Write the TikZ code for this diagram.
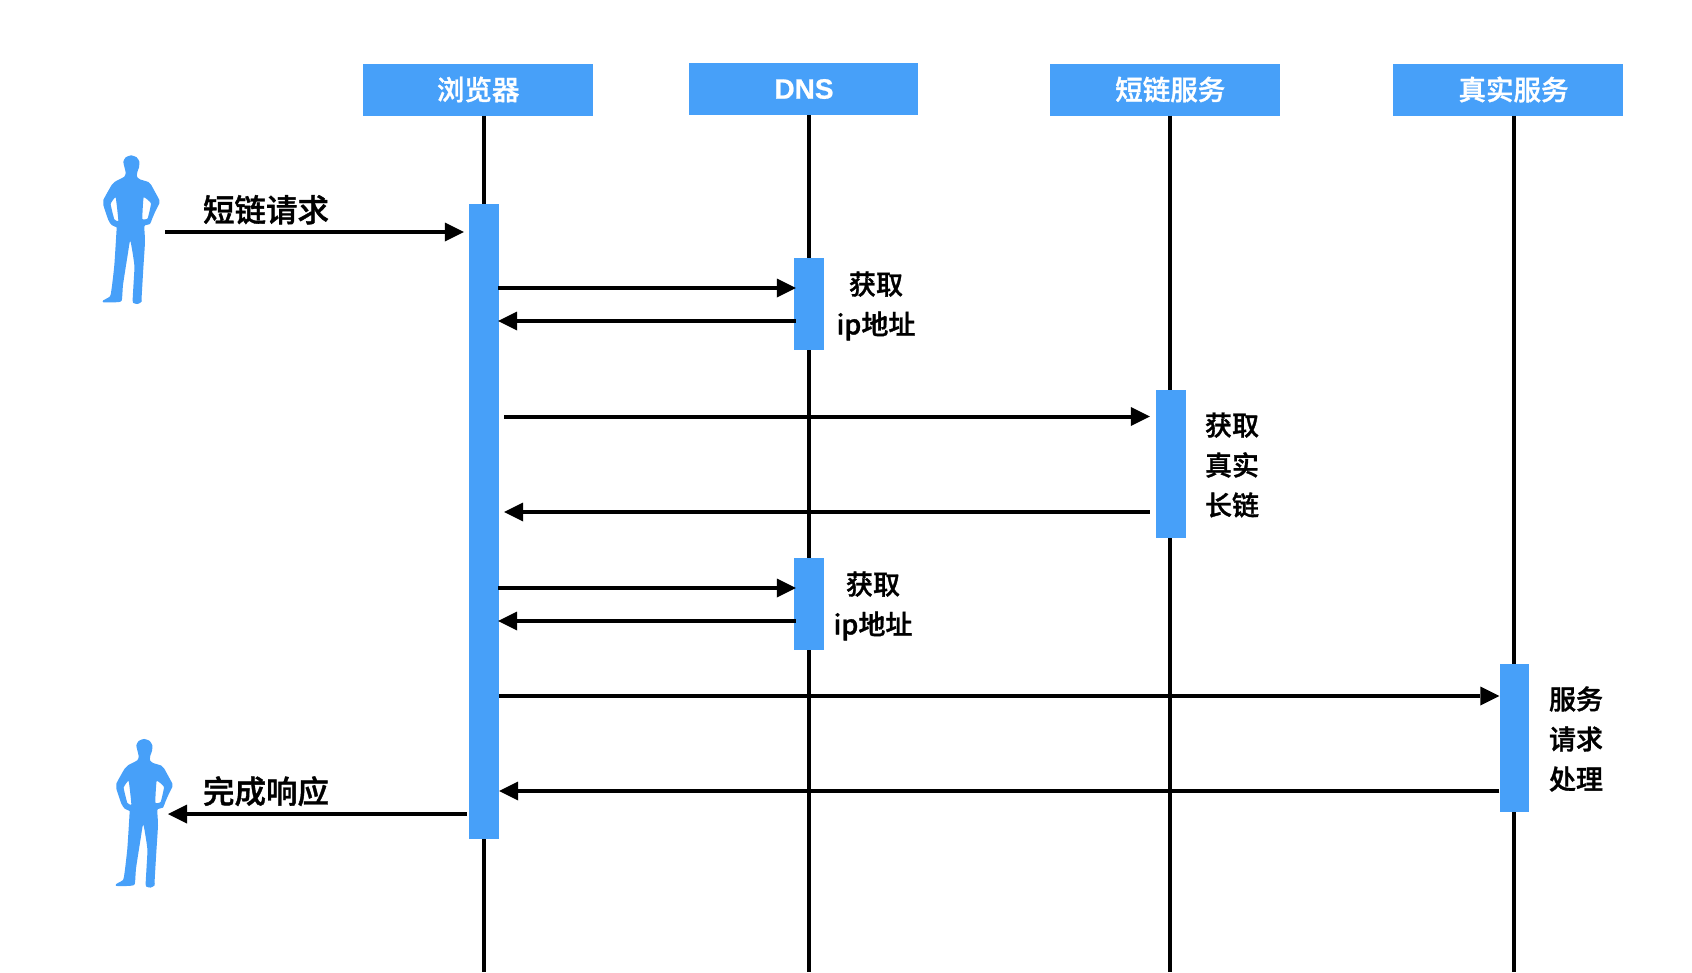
\documentclass[tikz,border=0pt]{standalone}
\usepackage{fontspec}
\setmainfont{Liberation Sans}
\newfontfamily\cjk[FakeBold=1.2]{Noto Sans CJK SC Medium}
\newfontfamily\cjkhead[FakeBold=1.2]{Noto Sans CJK SC Medium}
\newfontfamily\latinbold[FakeBold=0.8]{Liberation Sans Bold}
\usetikzlibrary{arrows.meta,calc}
\definecolor{seqblue}{HTML}{47A0F9}
\tikzset{
  header/.style={fill=seqblue,text=white,inner sep=0pt,minimum width=230pt,minimum height=52pt,font=\cjkhead\fontsize{27.5}{33}\selectfont},
  lifeline/.style={line width=4pt,black},
  bar/.style={fill=seqblue,inner sep=0pt,minimum width=30pt},
  msg/.style={line width=4pt,black,-{Triangle[length=19pt,width=19pt,line width=0pt]}},
  note/.style={inner sep=0pt,align=center,font=\cjk\fontsize{27}{40}\selectfont},
  biglabel/.style={inner sep=0pt,font=\cjk\fontsize{31.5}{36}\selectfont},
  person/.pic={
    \fill[seqblue,even odd rule,scale=1/3]
      plot[smooth cycle,tension=0.35] coordinates {
        (108,16) (125,22) (133,35) (132,52) (127,66) (126,80) (135,88) (160,96) (168,104) (178,122)
        (193,150) (193,160) (182,182) (172,205) (165,222) (150,226) (148,235) (150,275) (145,355)
        (140,440) (140,455) (128,462) (115,459) (113,449) (116,395) (118,345) (106,273) (98,315)
        (84,405) (80,452) (60,457) (25,457) (25,451) (45,439) (50,415) (58,345) (65,235)
        (65,232) (50,225) (40,210) (25,165) (25,150) (50,105) (60,95) (88,80) (92,68) (88,50) (85,35) (92,22)}
      plot[smooth cycle,tension=0.2] coordinates {(62,142) (47,162) (58,208) (70,212)}
      plot[smooth cycle,tension=0.2] coordinates {(146,142) (168,160) (158,205) (142,207)};
  }
}
\begin{document}
\begin{tikzpicture}[x=1pt,y=-1pt]
\useasboundingbox (0,0) rectangle (1692,972);
% free ends
\coordinate (b1) at (484,972);
\coordinate (b2) at (809,972);
\coordinate (b3) at (1170,972);
\coordinate (b4) at (1514,972);
\coordinate (userA) at (165,232);
\coordinate (userB) at (168,814);
% headers
\node[header] (hBrowser) at (478,89.5) {\raisebox{-0.7pt}{\hspace*{0.5pt}浏览器}};
\node[header,minimum width=229pt] (hDns) at (803.5,89) {\hspace*{1pt}\latinbold\fontsize{28}{33}\selectfont DNS};
\node[header] (hShort) at (1165,89.5) {\raisebox{-0.7pt}{\hspace*{10.5pt}短链服务}};
\node[header] (hReal) at (1508,89.5) {\raisebox{-0.7pt}{\hspace*{11pt}真实服务}};
% lifelines
\draw[lifeline] (hBrowser.south -| b1) -- (b1);
\draw[lifeline] (hDns.south -| b2) -- (b2);
\draw[lifeline] (hShort.south -| b3) -- (b3);
\draw[lifeline] (hReal.south -| b4) -- (b4);
% activation bars
\node[bar,minimum height=634.7pt] (barB) at (484,521.35) {};
\node[bar,minimum height=92pt] (barD1) at (809,304) {};
\node[bar,minimum height=148pt] (barS) at (1171,463.5) {};
\node[bar,minimum height=92pt] (barD2) at (809,603.5) {};
\node[bar,minimum height=148pt,minimum width=29.5pt] (barR) at (1514.25,737.5) {};
% persons
\pic at (95,150) {person};
\pic at (108,733.6) {person};
% messages
\draw[msg,shorten >=5pt] (userA) -- (barB.west |- userA);
\draw[msg,shorten >=-2pt,shorten <=-1pt] (barB.east |- 0,288) -- (barD1.west |- 0,288);
\draw[msg,shorten <=-2pt,shorten >=-1pt] (barD1.west |- 0,321) -- (barB.east |- 0,321);
\draw[msg,shorten >=6pt,shorten <=5pt] (barB.east |- 0,416.5) -- (barS.west |- 0,416.5);
\draw[msg,shorten >=5pt,shorten <=6pt] (barS.west |- 0,512) -- (barB.east |- 0,512);
\draw[msg,shorten >=-2pt,shorten <=-1pt] (barB.east |- 0,588) -- (barD2.west |- 0,588);
\draw[msg,shorten <=-2pt,shorten >=-1pt] (barD2.west |- 0,621) -- (barB.east |- 0,621);
\draw[msg] (barB.east |- 0,696) -- (barR.west |- 0,696);
\draw[msg] (barR.west |- 0,791) -- (barB.east |- 0,791);
\draw[msg,shorten <=2pt] (barB.west |- userB) -- (userB);
% labels
\node[biglabel] (lReq) at (266,209.7) {短链请求};
\node[biglabel] (lResp) at (266,791.2) {完成响应};
\node[note] (n1) at (876,306) {获取\\ip地址};
\node[note] (n2) at (1232,465) {获取\\真实\\长链};
\node[note] (n3) at (873,606) {获取\\ip地址};
\node[note] (n4) at (1576,739) {服务\\请求\\处理};
\end{tikzpicture}
\end{document}
